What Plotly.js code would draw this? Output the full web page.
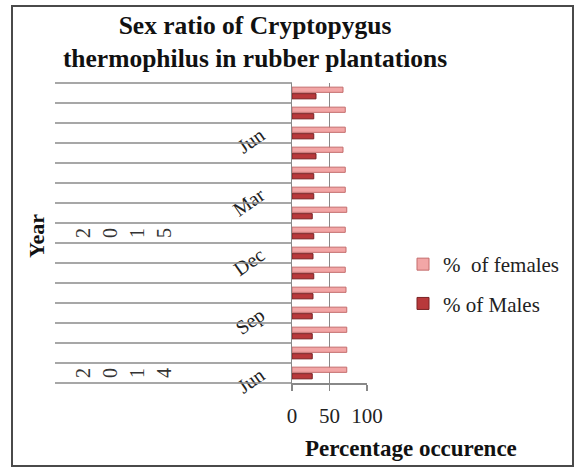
<!DOCTYPE html>
<html><head><meta charset="utf-8">
<script src="https://cdn.plot.ly/plotly-3.0.1.min.js"></script>
<style>html,body{margin:0;padding:0;background:#fff}#chart{width:580px;height:468px}</style>
</head><body><div id="chart"></div>
<script>
// ---- data (bottom category first) ----
const months = ["Jun","Jul","Aug","Sep","Oct","Nov","Dec","Jan","Feb","Mar","Apr","May","Jun","Jul","Aug"];
const years  = ["2014","2014","2014","2014","2014","2014","2014","2015","2015","2015","2015","2015","2015","2015","2015"];
const femalePct = [73,73,73,73,72,71,72,71,73,71,71,68,71,71,68];
const malePct   = [27,27,27,27,28,29,28,29,27,29,29,32,29,29,32];
const yearLabels = ["2014","2015"];

// ---- layout helpers ----
const W = 580, H = 468;
const M = {l: 292, r: 213, t: 83, b: 85};
const PW = W - M.l - M.r, PH = H - M.t - M.b;
const px2x = p => (p - M.l) / PW;
const px2y = p => (H - M.b - p) / PH;
const FONT = "Liberation Serif, Times New Roman, serif";

const cats = months.map((m, i) => m + " " + years[i]);
const tickvals = [], ticktext = [];
for (let i = 0; i < cats.length; i += 3) { tickvals.push(cats[i]); ticktext.push(months[i]); }

const traces = [
  {type: "bar", orientation: "h", name: "% of Males", y: cats, x: malePct,
   legendgroup: "m", legendrank: 2,
   marker: {color: "#B8393B", line: {color: "#7A2224", width: 1}}},
  {type: "bar", orientation: "h", name: "%  of females", y: cats, x: femalePct,
   legendgroup: "f", legendrank: 1,
   marker: {color: "#F2A6A6", line: {color: "#C46C6C", width: 1}}}
];

const shapes = [];
for (let i = 0; i <= cats.length; i++) {
  shapes.push({type: "line", xref: "paper", yref: "paper",
    x0: px2x(55), x1: 0, y0: i / cats.length, y1: i / cats.length,
    line: {color: "#8a8a8a", width: 1.5}});
}
shapes.push({type: "rect", xref: "paper", yref: "paper",
  x0: px2x(12), x1: px2x(573), y0: px2y(466), y1: px2y(6),
  line: {color: "#4a4a4a", width: 2}});

const annotations = [
  {text: "<b>Year</b>", xref: "paper", yref: "paper", x: px2x(36), y: px2y(236),
   xanchor: "center", yanchor: "middle",
   textangle: -90, showarrow: false, font: {family: FONT, size: 22, color: "#111"}},
  {text: "<b>Percentage occurence</b>", xref: "paper", yref: "paper", x: px2x(411), y: px2y(448),
   xanchor: "center", yanchor: "middle",
   showarrow: false, font: {family: FONT, size: 23, color: "#111"}}
];
yearLabels.forEach(yr => {
  const firstCat = cats[years.indexOf(yr)];
  yr.split("").forEach((ch, j) => {
    annotations.push({text: ch, xref: "paper", yref: "y", x: px2x(83 + j * 27), y: firstCat,
      xanchor: "center", yanchor: "middle",
      textangle: -90, showarrow: false, font: {family: FONT, size: 20, color: "#333"}});
  });
});

const layout = {
  width: W, height: H, margin: M,
  paper_bgcolor: "#fff", plot_bgcolor: "#fff",
  title: {text: "<b>Sex ratio of Cryptopygus<br>thermophilus in rubber plantations</b>",
    font: {family: FONT, size: 25.5, color: "#111"},
    xref: "container", x: 255 / W, xanchor: "center",
    yref: "container", y: 1 - 34 / H, yanchor: "top"},
  barmode: "group", bargap: 0.35, bargroupgap: 0.2,
  xaxis: {range: [0, 100], tickvals: [0, 50, 100], ticks: "outside", ticklen: 6,
    tickcolor: "#888", tickwidth: 1.5, showgrid: true, gridcolor: "#888", gridwidth: 1.5,
    showline: true, linecolor: "#888", linewidth: 1.5, zeroline: false,
    tickfont: {family: FONT, size: 21, color: "#222"}, ticklabelstandoff: 7, fixedrange: true},
  yaxis: {type: "category", categoryorder: "array", categoryarray: cats,
    showline: true, linecolor: "#888", linewidth: 1.5, ticks: "", showgrid: false,
    tickvals: tickvals, ticktext: ticktext, tickangle: -35,
    tickfont: {family: FONT, size: 20, color: "#222"}, ticklabelstandoff: 26, fixedrange: true},
  legend: {x: px2x(403), y: px2y(244), xanchor: "left", yanchor: "top",
    traceorder: "grouped", tracegroupgap: 9,
    font: {family: FONT, size: 21, color: "#222"}, bgcolor: "rgba(0,0,0,0)"},
  shapes: shapes, annotations: annotations
};

Plotly.newPlot("chart", traces, layout, {displayModeBar: false, staticPlot: true});
</script>
</body></html>
